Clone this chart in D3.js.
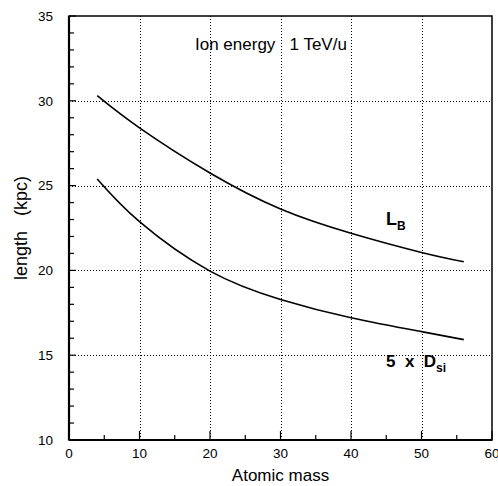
<!DOCTYPE html>
<html>
<head>
<meta charset="utf-8">
<script src="https://cdn.jsdelivr.net/npm/d3@7"></script>
<style>
  html, body { margin: 0; padding: 0; background: #fff; }
  svg { display: block; }
  text { font-family: "Liberation Sans", Arial, sans-serif; fill: #000; }
</style>
</head>
<body>
<svg id="chart" width="498" height="486"></svg>
<script>
// Atomic mass sample points
const massPoints = [4, 10, 20, 30, 40, 50, 56];
// Boron-production length L_B (kpc)
const lengthLB = [30.3, 28.4, 25.74, 23.62, 22.19, 21.06, 20.51];
// Five times the silicon diffusion length D_si (kpc)
const lengthDsi = [25.39, 22.87, 19.96, 18.29, 17.21, 16.39, 15.92];

const xTicks = [0, 10, 20, 30, 40, 50, 60];
const yTicks = [10, 15, 20, 25, 30, 35];

const svg = d3.select("#chart");
const plotLeft = 69, plotRight = 492, plotTop = 16, plotBottom = 440;

const x = d3.scaleLinear().domain([0, 60]).range([plotLeft, plotRight]);
const y = d3.scaleLinear().domain([10, 35]).range([plotBottom, plotTop]);

// dotted grid at the labelled ticks
const grid = svg.append("g").attr("stroke", "#000").attr("stroke-width", 1)
  .attr("stroke-dasharray", "1,2").attr("shape-rendering", "crispEdges");
grid.selectAll("line.gx").data(xTicks.filter(d => d > 0 && d < 60)).join("line")
  .attr("x1", d => Math.round(x(d)) + 0.5).attr("x2", d => Math.round(x(d)) + 0.5)
  .attr("y1", plotTop).attr("y2", plotBottom);
grid.selectAll("line.gy").data(yTicks.filter(d => d > 10 && d < 35)).join("line")
  .attr("x1", plotLeft).attr("x2", plotRight)
  .attr("y1", d => Math.round(y(d)) + 0.5).attr("y2", d => Math.round(y(d)) + 0.5);

// minor / major ticks pointing into the plot
const ticks = svg.append("g").attr("stroke", "#000").attr("stroke-width", 1.2);
ticks.selectAll("line.ty").data(d3.range(10, 36, 1)).join("line")
  .attr("x1", plotLeft).attr("x2", d => plotLeft + (d % 5 === 0 ? 7 : 5))
  .attr("y1", d => y(d)).attr("y2", d => y(d));
ticks.selectAll("line.tx").data(d3.range(0, 61, 5)).join("line")
  .attr("y1", plotBottom).attr("y2", d => plotBottom - (d % 10 === 0 ? 9 : 5))
  .attr("x1", d => x(d)).attr("x2", d => x(d));

// frame
svg.append("rect").attr("x", plotLeft).attr("y", plotTop)
  .attr("width", plotRight - plotLeft).attr("height", plotBottom - plotTop)
  .attr("fill", "none").attr("stroke", "#000").attr("stroke-width", 1.5);
svg.append("line").attr("x1", plotLeft).attr("x2", plotLeft).attr("y1", plotTop).attr("y2", plotBottom)
  .attr("stroke", "#000").attr("stroke-width", 2.2);
svg.append("line").attr("x1", plotLeft).attr("x2", plotRight).attr("y1", plotBottom).attr("y2", plotBottom)
  .attr("stroke", "#000").attr("stroke-width", 2.2);

// tick labels
svg.append("g").selectAll("text").data(yTicks).join("text")
  .attr("x", 53).attr("y", d => y(d)).attr("dy", "0.35em")
  .attr("text-anchor", "end").attr("font-size", 13.5).text(d => d);
svg.append("g").selectAll("text").data(xTicks).join("text")
  .attr("x", d => x(d)).attr("y", 458)
  .attr("text-anchor", "middle").attr("font-size", 13.5).text(d => d);

// axis titles
svg.append("text").attr("x", x(30)).attr("y", 481).attr("text-anchor", "middle")
  .attr("font-size", 17).text("Atomic mass");
svg.append("text").attr("transform", `translate(27,${(plotTop + plotBottom) / 2}) rotate(-90)`)
  .attr("text-anchor", "middle").attr("font-size", 18).attr("xml:space", "preserve")
  .text("length   (kpc)");

// curves
const line = d3.line().x((d, i) => x(massPoints[i])).y(d => y(d)).curve(d3.curveNatural);
svg.append("path").datum(lengthLB).attr("d", line)
  .attr("fill", "none").attr("stroke", "#000").attr("stroke-width", 1.6);
svg.append("path").datum(lengthDsi).attr("d", line)
  .attr("fill", "none").attr("stroke", "#000").attr("stroke-width", 1.6);

// annotations
svg.append("text").attr("x", 195).attr("y", 50).attr("font-size", 17)
  .attr("xml:space", "preserve").text("Ion energy   1 TeV/u");

const lb = svg.append("text").attr("x", 386).attr("y", 225)
  .attr("font-size", 18).attr("font-weight", "bold");
lb.append("tspan").text("L");
lb.append("tspan").attr("font-size", 12).attr("dy", 5).text("B");

const ds = svg.append("text").attr("x", 386).attr("y", 367)
  .attr("font-size", 17).attr("font-weight", "bold").attr("xml:space", "preserve");
ds.append("tspan").text("5  x  D");
ds.append("tspan").attr("font-size", 12).attr("dy", 5).text("si");
</script>
</body>
</html>
